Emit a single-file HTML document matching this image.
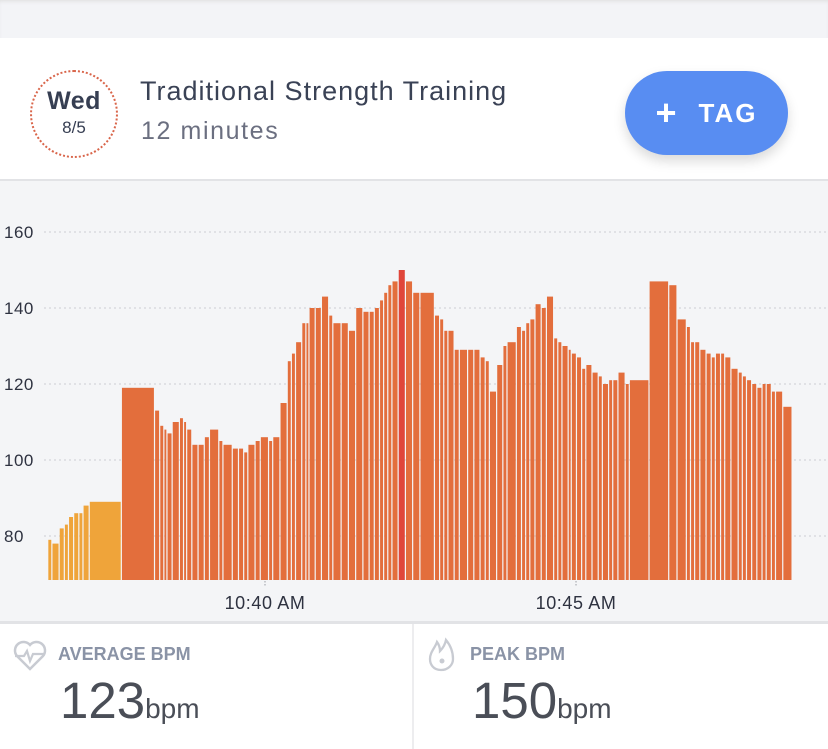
<!DOCTYPE html>
<html><head><meta charset="utf-8"><style>
body{margin:0;width:828px;height:749px;overflow:hidden;background:#fff;font-family:"Liberation Sans",sans-serif;position:relative}
.abs{position:absolute}
</style></head><body>
<div class="abs" style="left:0;top:0;width:828px;height:38px;background:#F3F4F7;box-shadow:inset 0 3px 4px -2px #ddd"></div>
<div class="abs" style="left:0;top:38px;width:828px;height:141px;background:#fff;border-bottom:2px solid #E2E3E6">
  <div class="abs" style="left:30px;top:32px;width:84px;height:84px;border-radius:50%;border:2px dotted #D9654A;text-align:center">
    <div style="font-weight:bold;font-size:25px;color:#363E52;margin-top:15px;letter-spacing:0.5px">Wed</div>
    <div style="font-size:17px;color:#363E52;margin-top:2px">8/5</div>
  </div>
  <div class="abs" style="left:140px;top:38px;font-size:27px;color:#3A4255;letter-spacing:1px">Traditional Strength Training</div>
  <div class="abs" style="left:141px;top:79px;font-size:25px;color:#6B6F80;letter-spacing:1.6px">12 minutes</div>
  <div class="abs" style="left:625px;top:33px;width:163px;height:84px;border-radius:42px;background:#588DF2;box-shadow:0 6px 12px rgba(0,0,0,0.15);color:#fff;font-weight:bold;font-size:26px;line-height:84px;text-align:center;letter-spacing:2px"><span style="font-size:36px;vertical-align:-3px;margin-right:20px">+</span>TAG</div>
</div>
<div class="abs" style="left:0;top:181px;width:828px;height:441px;background:#F4F5F7">
<svg id="chart" width="828" height="441"></svg>
</div>
<div class="abs" style="left:0;top:621px;width:828px;height:3px;background:#E2E3E6"></div>
<div class="abs" style="left:412px;top:624px;width:2px;height:125px;background:#EDEDEF"></div>
<svg class="abs" style="left:12px;top:637px" width="36" height="36" viewBox="0 0 36 36"><path d="M18 32 L5 19 A8 8 0 0 1 18 8 A8 8 0 0 1 31 19 Z" fill="none" stroke="#C8CBD2" stroke-width="2.5"/><path d="M3 19 H12 L15 14 L18 24 L21 17 H33" fill="none" stroke="#C8CBD2" stroke-width="2.2"/></svg>
<div class="abs" style="left:58px;top:644px;font-size:18px;font-weight:bold;color:#8A93A6">AVERAGE BPM</div>
<div class="abs" style="left:60px;top:671px;color:#4A4E57"><span style="font-size:51px">123</span><span style="font-size:28px">bpm</span></div>
<svg class="abs" style="left:426px;top:636px" width="30" height="38" viewBox="0 0 30 38"><path d="M15 34 C7 34 4 28 4 23 C4 16 9 12 11 6 C14 10 14 13 14 15 C17 12 19 9 20 4 C25 10 27 17 27 23 C27 29 22 34 15 34 Z" fill="none" stroke="#C8CBD2" stroke-width="2.3"/><circle cx="16" cy="25" r="2.5" fill="#C8CBD2"/></svg>
<div class="abs" style="left:470px;top:644px;font-size:18px;font-weight:bold;color:#8A93A6">PEAK BPM</div>
<div class="abs" style="left:472px;top:671px;color:#4A4E57"><span style="font-size:51px">150</span><span style="font-size:28px">bpm</span></div>
<script>
const starts=[-209,-205,-198,-193,-189,-184,-179,-175,-169,-138,-106,-101,-97,-94,-89,-82,-78,-75,-70,-64,-58,-53,-44,-40,-31,-25,-20,-16,-9,-4,4,8,15,22,26,30,36,40,43,49,55,62,66,74,81,88,95,101,106,111,115,119,123,129,136,143,150,164,169,173,177,183,188,196,202,208,213,217,224,230,234,243,248,252,256,261,267,272,279,283,287,293,296,301,306,310,316,322,326,332,336,341,348,352,371,390,398,407,411,415,420,426,431,435,440,444,450,457,461,465,470,475,480,484,489,493,500];
const endTime=509;
const bpm=[79,78,82,83,85,86,86,88,89,119,113,109,108,107,110,111,110,108,104,104,106,108,105,104,103,103,102,104,105,106,105,106,115,126,128,131,136,136,140,140,143,138,136,136,134,140,139,139,140,142,144,146,147,150,147,144,144,138,137,134,134,129,129,129,129,127,126,118,125,130,131,135,134,136,137,141,140,143,132,131,130,129,128,127,124,125,123,122,120,121,121,123,120,121,147,146,137,135,131,131,129,128,127,128,128,127,124,123,122,121,120,119,120,120,118,118,114];
const yTicks=[80,100,120,140,160];
const xTickSecs=[0,300];
const xTickLabels=["10:40 AM","10:45 AM"];
const NS="http://www.w3.org/2000/svg";
const svg=document.getElementById('chart');
const OY=181;
function x(s){return 265+s*1.0367;}
function y(v){return 232+(160-v)*3.8-OY;}
const base=580-OY;
function mk(t,a){const e=document.createElementNS(NS,t);for(const k in a)e.setAttribute(k,a[k]);svg.appendChild(e);return e;}
yTicks.forEach(v=>{
 const l=mk('line',{x1:44,x2:828,y1:y(v),y2:y(v),stroke:'#D3D5DA','stroke-width':1.2,'stroke-dasharray':'2 3'});
 
 
 const t=mk('text',{x:4,y:y(v)+6,'font-size':17,fill:'#2E3240','font-family':'Liberation Sans, sans-serif','letter-spacing':'0.5'});
 t.textContent=v;
 
 
});
const peak=Math.max(...bpm);
bpm.forEach((v,i)=>{
 const s=starts[i],e=(i+1<starts.length?starts[i+1]:endTime);
 const x0=x(s),x1=x(e)-1.2;
 const col=v===peak?'#E0463A':(v<90?'#EFA43A':'#E36E3C');
 const r=mk('rect',{x:x0,y:y(v),width:Math.max(1,x1-x0),height:base-y(v),fill:col});
 
 
});
xTickSecs.forEach((s,i)=>{
 const l=mk('line',{x1:x(s),x2:x(s),y1:base+1,y2:base+6,stroke:'#A9ACB3','stroke-width':1.2,'stroke-dasharray':'1.5 1.5'});
 
 
 const t=mk('text',{x:x(s),y:base+29,'font-size':18,fill:'#2E3240','text-anchor':'middle','font-family':'Liberation Sans, sans-serif','letter-spacing':'0.6'});
 t.textContent=xTickLabels[i];
 
 
});
</script>
</body></html>
